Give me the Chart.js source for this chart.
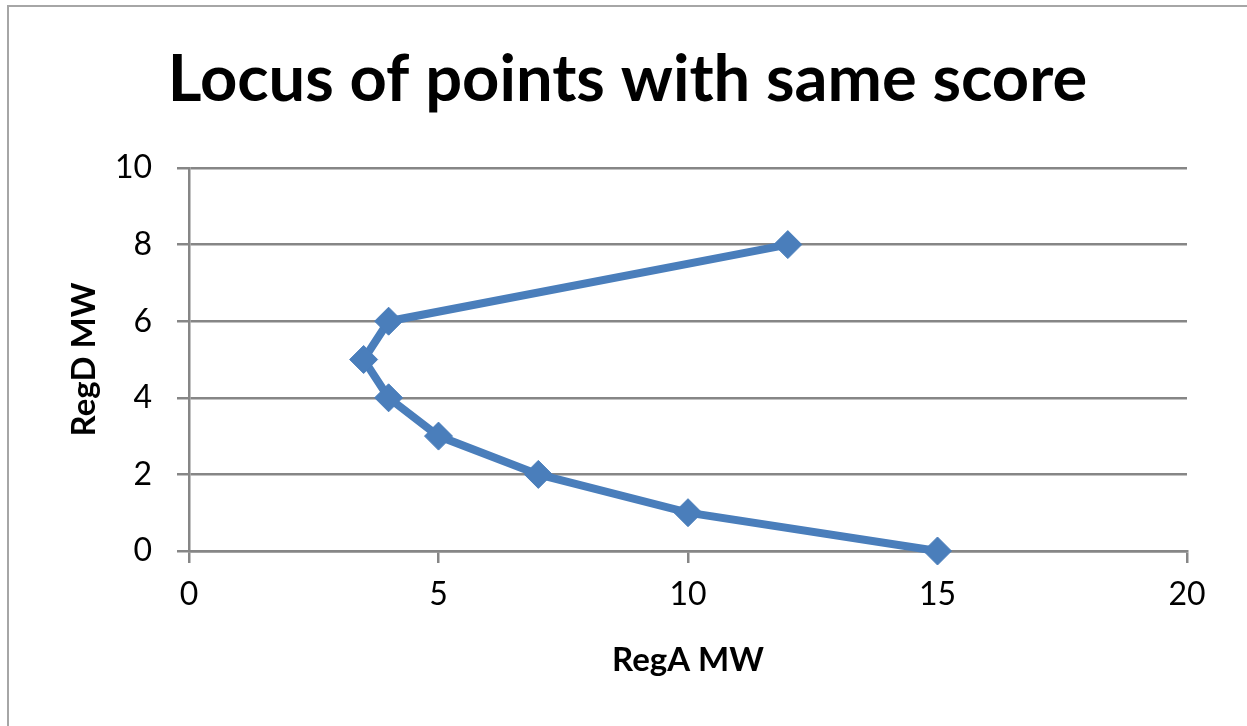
<!DOCTYPE html>
<html>
<head>
<meta charset="utf-8">
<script src="https://cdn.jsdelivr.net/npm/chart.js@4/dist/chart.umd.min.js"></script>
<style>
  html, body { margin: 0; padding: 0; background: #fff; overflow: hidden; }
  #frame {
    position: absolute; left: 7px; top: 5px;
    width: 1300px; height: 800px;
    border: 2px solid #a6a6a6;
  }
  #wrap { position: absolute; left: 0; top: 0; width: 1247px; height: 726px; }
</style>
</head>
<body>
<div id="frame"></div>
<div id="wrap"><canvas id="locusChart"></canvas></div>
<script>
// RegA MW / RegD MW pairs, in drawing order
const regA = [15, 10, 7, 5, 4, 3.5, 4, 12];
const regD = [0, 1, 2, 3, 4, 5, 6, 8];
const xTicks = [0, 5, 10, 15, 20];
const yTicks = [0, 2, 4, 6, 8, 10];

const chartTitle = "Locus of points with same score";
const xTitle = "RegA MW";
const yTitle = "RegD MW";

const points = regA.map((x, i) => ({ x: x, y: regD[i] }));

const blue = "#4a7ebb";
const axisGray = "#868686";

const el = document.getElementById("locusChart");
new Chart(el, {
  type: "scatter",
  data: {
    datasets: [
      {
        data: points,
        showLine: true,
        clip: false,
        borderColor: blue,
        borderWidth: 8,
        backgroundColor: blue,
        pointStyle: "rectRot",
        pointRadius: 14,
        pointHoverRadius: 14,
        pointBorderColor: blue,
        pointBorderWidth: 1,
        tension: 0,
      },
    ],
  },
  options: {
    responsive: true,
    maintainAspectRatio: false,
    animation: false,
    layout: { padding: { left: 68, right: 60, top: 0, bottom: 0 } },
    plugins: {
      legend: { display: false },
      tooltip: { enabled: false },
      title: {
        display: true,
        text: chartTitle,
        color: "#000",
        font: { family: "Lato", size: 65, weight: "bold" },
        padding: { top: 41, bottom: 49 },
      },
    },
    scales: {
      x: {
        type: "linear",
        min: 0,
        max: 20,
        afterBuildTicks: (scale) => {
          scale.ticks = xTicks.map((v) => ({ value: v }));
        },
        afterFit: (scale) => {
          scale.height = 175;
        },
        grid: {
          display: true,
          drawOnChartArea: false,
          drawTicks: true,
          tickLength: 12,
          color: axisGray,
          lineWidth: 2.5,
        },
        border: { display: true, color: axisGray, width: 2.5 },
        ticks: {
          color: "#000",
          font: { family: "Lato", size: 32 },
          padding: 12,
          maxRotation: 0,
        },
        title: {
          display: true,
          text: xTitle,
          color: "#000",
          font: { family: "Lato", size: 33, weight: "bold" },
          padding: { top: 0, bottom: 46 },
        },
      },
      y: {
        type: "linear",
        min: 0,
        max: 10,
        afterBuildTicks: (scale) => {
          scale.ticks = yTicks.map((v) => ({ value: v }));
        },
        afterFit: (scale) => {
          scale.width = 121;
        },
        grid: {
          display: true,
          drawOnChartArea: true,
          drawTicks: true,
          tickLength: 12,
          color: axisGray,
          lineWidth: 2.5,
        },
        border: { display: true, color: axisGray, width: 2.5 },
        ticks: {
          color: "#000",
          font: { family: "Lato", size: 32 },
          padding: 25,
        },
        title: {
          display: true,
          text: yTitle,
          color: "#000",
          font: { family: "Lato", size: 33, weight: "bold", lineHeight: 1.0 },
          padding: { top: 0, bottom: 0 },
        },
      },
    },
  },
});
</script>
</body>
</html>
